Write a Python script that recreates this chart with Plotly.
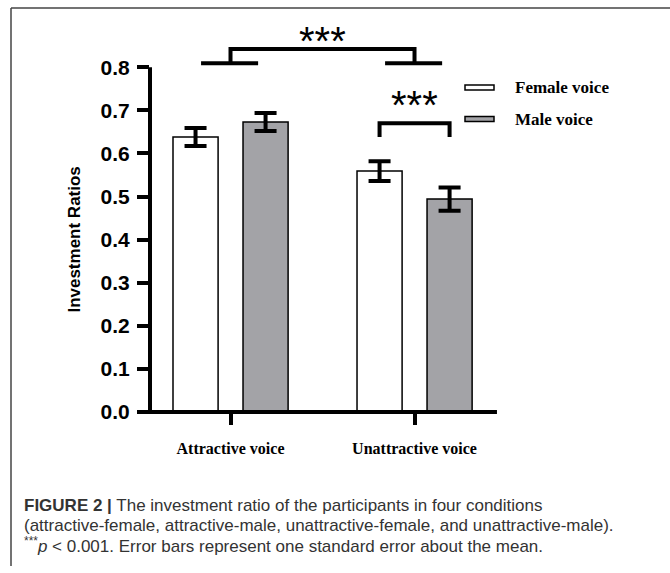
import plotly.graph_objects as go

# ---------------- data ----------------
categories = ["Attractive voice", "Unattractive voice"]
series_names = ["Female voice", "Male voice"]
female_means = [0.638, 0.559]
female_se = [0.021, 0.023]
male_means = [0.673, 0.494]
male_se = [0.021, 0.027]
y_tick_vals = [0.0, 0.1, 0.2, 0.3, 0.4, 0.5, 0.6, 0.7, 0.8]
y_tick_text = ["0.0", "0.1", "0.2", "0.3", "0.4", "0.5", "0.6", "0.7", "0.8"]
sig_label = "***"
y_title = "Investment Ratios"
caption_lines = [
    "<b>FIGURE 2 |</b> The investment ratio of the participants in four conditions",
    "(attractive-female, attractive-male, unattractive-female, and unattractive-male).",
    "<sup>***</sup><i>p</i> &lt; 0.001. Error bars represent one standard error about the mean.",
]

# ---------------- layout constants ----------------
W, H = 670, 573
ML, MR, MT, MB = 150, 10, 5, 161
PW = W - ML - MR
PH = H - MT - MB
X_RANGE = [-0.4375, 2.334]
Y_RANGE = [0.0, 0.9443]
BAR_W = 0.245
OFF_F = -0.3125
OFF_M = 0.068
GREY = "#a3a3a7"

def px_x(px):
    return (px - ML) / PW

def px_y(py):
    return (H - MB - py) / PH

def dx_paper(x):
    return (x - X_RANGE[0]) / (X_RANGE[1] - X_RANGE[0])

def dy_paper(y):
    return (y - Y_RANGE[0]) / (Y_RANGE[1] - Y_RANGE[0])

xs = list(range(len(categories)))

fig = go.Figure()
fig.add_trace(go.Bar(
    x=xs, y=female_means, name=series_names[0], width=BAR_W, offset=OFF_F,
    marker=dict(color="white", line=dict(color="black", width=1.5)),
    error_y=dict(type="data", array=female_se, color="black", thickness=4, width=11),
    showlegend=False,
))
fig.add_trace(go.Bar(
    x=xs, y=male_means, name=series_names[1], width=BAR_W, offset=OFF_M,
    marker=dict(color=GREY, line=dict(color="black", width=1.5)),
    error_y=dict(type="data", array=male_se, color="black", thickness=4, width=11),
    showlegend=False,
))

shapes = []
ann = []
LW = 4
# axis lines
shapes.append(dict(type="line", xref="paper", yref="paper", x0=0, x1=0,
                   y0=dy_paper(0), y1=dy_paper(max(y_tick_vals)),
                   line=dict(color="black", width=LW)))
shapes.append(dict(type="line", xref="paper", yref="paper", x0=px_x(138), x1=dx_paper(1.448),
                   y0=0, y1=0, line=dict(color="black", width=LW)))

STAR_FONT = dict(family="Liberation Sans", size=40, color="black")

# top bracket between categories
top_y, foot_y = 0.842, 0.809
shapes.append(dict(type="path", xref="x", yref="y",
                   path=f"M {xs[0]},{foot_y} L {xs[0]},{top_y} L {xs[1]},{top_y} L {xs[1]},{foot_y}",
                   line=dict(color="black", width=LW)))
for cx in xs:
    shapes.append(dict(type="line", xref="x", yref="y", x0=cx - 0.16, x1=cx + 0.15,
                       y0=foot_y, y1=foot_y, line=dict(color="black", width=LW)))
ann.append(dict(x=(xs[0] + xs[1]) / 2, y=0.805, xref="x", yref="y", text=sig_label,
                showarrow=False, yanchor="bottom", font=STAR_FONT))

# lower bracket within unattractive group
fc = xs[1] + OFF_F + BAR_W / 2
mc = xs[1] + OFF_M + BAR_W / 2
b_top, b_foot = 0.670, 0.638
shapes.append(dict(type="path", xref="x", yref="y",
                   path=f"M {fc},{b_foot} L {fc},{b_top} L {mc},{b_top} L {mc},{b_foot}",
                   line=dict(color="black", width=LW)))
ann.append(dict(x=(fc + mc) / 2, y=0.657, xref="x", yref="y", text=sig_label,
                showarrow=False, yanchor="bottom", font=STAR_FONT))

# legend (manual)
leg_y = [87.5, 119]
leg_fill = ["white", GREY]
for name, yy, col in zip(series_names, leg_y, leg_fill):
    shapes.append(dict(type="rect", xref="paper", yref="paper",
                       x0=px_x(465), x1=px_x(494), y0=px_y(yy - 2.5), y1=px_y(yy + 2.5),
                       fillcolor=col, line=dict(color="black", width=1.5)))
    ann.append(dict(x=px_x(513), y=px_y(yy), xref="paper", yref="paper", text=f"<b>{name}</b>",
                    showarrow=False, xanchor="left", yanchor="middle",
                    font=dict(family="Liberation Serif", size=17, color="black")))

# y title
ann.append(dict(x=px_x(75), y=dy_paper(0.4), xref="paper", yref="paper", text=f"<b>{y_title}</b>",
                showarrow=False, textangle=-90, xanchor="center", yanchor="middle",
                font=dict(family="Liberation Sans", size=17, color="black")))

# frame (left and top edges)
frame_col = "#444444"
shapes.append(dict(type="line", xref="paper", yref="paper", x0=px_x(11), x1=px_x(11),
                   y0=px_y(8), y1=px_y(566), line=dict(color=frame_col, width=1.5)))
shapes.append(dict(type="line", xref="paper", yref="paper", x0=px_x(11), x1=px_x(670),
                   y0=px_y(8), y1=px_y(8), line=dict(color=frame_col, width=1.5)))

# caption
cap_y = [505, 525, 545]
for line, yy in zip(caption_lines, cap_y):
    ann.append(dict(x=px_x(22), y=px_y(yy), xref="paper", yref="paper", text=line,
                    showarrow=False, xanchor="left", yanchor="middle",
                    font=dict(family="Liberation Sans", size=17, color="#333333")))

fig.update_layout(
    width=W, height=H,
    margin=dict(l=ML, r=MR, t=MT, b=MB, pad=0),
    paper_bgcolor="white", plot_bgcolor="white",
    barmode="overlay",
    showlegend=False,
    shapes=shapes, annotations=ann,
    xaxis=dict(range=X_RANGE, tickvals=xs, ticktext=[f"<b>{c}</b>" for c in categories],
               ticks="outside", ticklen=12, tickwidth=4, tickcolor="black", showgrid=False,
               zeroline=False, showline=False, ticklabelstandoff=10,
               tickfont=dict(family="Liberation Serif", size=16, color="black")),
    yaxis=dict(range=Y_RANGE, tickvals=y_tick_vals, ticktext=[f"<b>{t}</b>" for t in y_tick_text],
               ticks="outside", ticklen=12, tickwidth=4, tickcolor="black", showgrid=False,
               zeroline=False, showline=False, ticklabelstandoff=3,
               tickfont=dict(family="Liberation Sans", size=21, color="black")),
)

fig.write_html("out.html")
